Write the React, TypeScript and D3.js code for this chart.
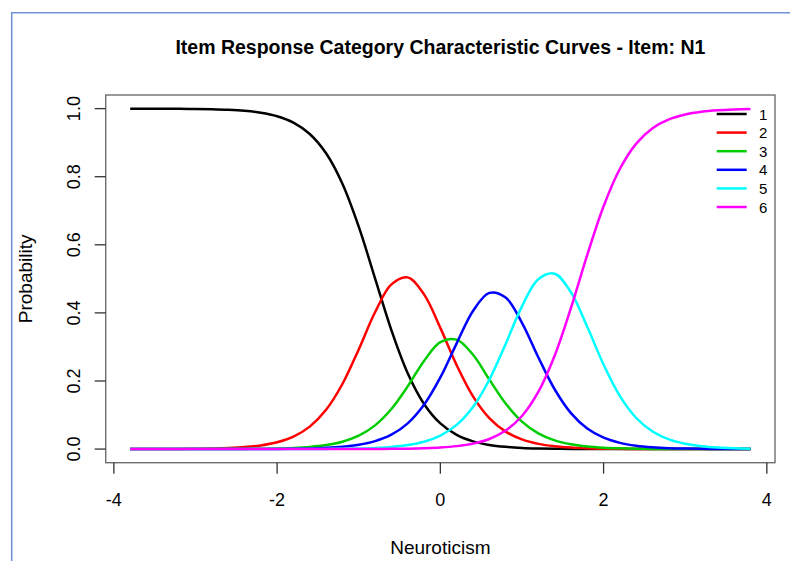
import React from "react";
import * as d3 from "d3";

const theta = [-3.8,-3.6,-3.4,-3.2,-3.0,-2.8,-2.6,-2.4,-2.2,-2.0,-1.8,-1.6,-1.4,-1.2,-1.0,-0.8,-0.6,-0.4,-0.2,0,0.2,0.4,0.6,0.8,1.0,1.2,1.4,1.6,1.8,2.0,2.2,2.4,2.6,2.8,3.0,3.2,3.4,3.6,3.8];

const cat1 = [0.9999,0.9998,0.9997,0.9995,0.9990,0.9981,0.9965,0.9935,0.9879,0.9776,0.9588,0.9254,0.8687,0.7794,0.6534,0.5015,0.3493,0.2227,0.1326,0.0754,0.0417,0.0227,0.0122,0.0066,0.0035,0.0019,0.0010,0.0005,0.0003,0.0002,0.0001,0,0,0,0,0,0,0,0];
const cat2 = [0.0001,0.0001,0.0003,0.0005,0.0009,0.0017,0.0031,0.0058,0.0108,0.0200,0.0367,0.0660,0.1153,0.1911,0.2927,0.4019,0.4838,0.5044,0.4544,0.3560,0.2465,0.1550,0.0912,0.0513,0.0283,0.0153,0.0083,0.0044,0.0024,0.0013,0.0007,0.0004,0.0002,0.0001,0.0001,0,0,0,0];
const cat3 = [0,0,0,0,0.0001,0.0002,0.0003,0.0005,0.0010,0.0018,0.0034,0.0064,0.0118,0.0217,0.0393,0.0696,0.1176,0.1842,0.2588,0.3140,0.3215,0.2769,0.2045,0.1339,0.0807,0.0461,0.0255,0.0139,0.0075,0.0040,0.0022,0.0012,0.0006,0.0003,0.0002,0.0001,0,0,0];
const cat4 = [0,0,0,0,0,0.0001,0.0001,0.0002,0.0003,0.0006,0.0010,0.0019,0.0036,0.0068,0.0126,0.0233,0.0423,0.0757,0.1301,0.2104,0.3106,0.4058,0.4588,0.4451,0.3710,0.2699,0.1757,0.1057,0.0603,0.0335,0.0183,0.0099,0.0053,0.0028,0.0015,0.0008,0.0004,0.0002,0.0001];
const cat5 = [0,0,0,0,0,0,0,0,0,0.0001,0.0002,0.0003,0.0005,0.0010,0.0018,0.0034,0.0063,0.0117,0.0216,0.0396,0.0710,0.1235,0.2036,0.3088,0.4193,0.4990,0.5152,0.4608,0.3592,0.2479,0.1555,0.0913,0.0515,0.0283,0.0154,0.0083,0.0044,0.0024,0.0013];
const cat6 = [0,0,0,0,0,0,0,0,0,0,0,0,0.0001,0.0001,0.0002,0.0004,0.0007,0.0013,0.0025,0.0046,0.0087,0.0161,0.0297,0.0543,0.0972,0.1678,0.2743,0.4146,0.5703,0.7132,0.8233,0.8973,0.9424,0.9684,0.9829,0.9908,0.9951,0.9974,0.9986];

const categories = ["1", "2", "3", "4", "5", "6"];
const seriesValues = [cat1, cat2, cat3, cat4, cat5, cat6];
const colors = ["#000000", "#FF0000", "#00CD00", "#0000FF", "#00FFFF", "#FF00FF"];
const xTicks = [-4, -2, 0, 2, 4];
const yTicks = [0, 0.2, 0.4, 0.6, 0.8, 1.0];

const title = "Item Response Category Characteristic Curves - Item: N1";
const xLabel = "Neuroticism";
const yLabel = "Probability";

export default function App() {
  const W = 790, H = 561;
  const left = 105.7, right = 775, top = 95, bottom = 462.7;
  const x = d3.scaleLinear().domain([-4.1, 4.1]).range([left, right]);
  const y = d3.scaleLinear().domain([-0.04, 1.04]).range([bottom, top]);
  const line = d3.line<[number, number]>()
    .x(d => x(d[0]))
    .y(d => y(d[1]))
    .curve(d3.curveCatmullRom.alpha(0.5));
  const font = "'Liberation Sans', Arial, sans-serif";
  const legX1 = 716.7, legX2 = 746.7, legY0 = 114, legStep = 18.6;

  return (
    <svg width={W} height={H} style={{ position: "absolute", left: 0, top: 0, background: "#fff" }} fontFamily={font}>
      <rect x={0} y={0} width={W} height={H} fill="#fff" />
      <path d={`M ${W} 12.7 H 11.7 V ${H}`} fill="none" stroke="#6f93d6" strokeWidth={1.6} />
      <text x={(left + right) / 2} y={54} textAnchor="middle" fontSize={19.5} fontWeight="bold" fill="#000">{title}</text>
      <rect x={left} y={top} width={right - left} height={bottom - top} fill="none" stroke="#6e6e6e" strokeWidth={1.4} />
      {xTicks.map(t => (
        <g key={"x" + t}>
          <line x1={x(t)} x2={x(t)} y1={bottom} y2={bottom + 11} stroke="#333" strokeWidth={1.3} />
          <text x={x(t)} y={506} textAnchor="middle" fontSize={18} fill="#000">{t}</text>
        </g>
      ))}
      {yTicks.map(t => (
        <g key={"y" + t}>
          <line x1={left} x2={left - 11} y1={y(t)} y2={y(t)} stroke="#333" strokeWidth={1.3} />
          <text transform={`translate(79.5,${y(t)}) rotate(-90)`} textAnchor="middle" fontSize={18} fill="#000">{t.toFixed(1)}</text>
        </g>
      ))}
      <text x={(left + right) / 2} y={554} textAnchor="middle" fontSize={19} fill="#000">{xLabel}</text>
      <text transform={`translate(32,${(top + bottom) / 2}) rotate(-90)`} textAnchor="middle" fontSize={19} fill="#000">{yLabel}</text>
      {seriesValues.map((vals, i) => (
        <path key={"s" + i} d={line(theta.map((t, j) => [t, vals[j]]) as [number, number][]) || ""} fill="none" stroke={colors[i]} strokeWidth={2.5} strokeLinejoin="round" />
      ))}
      {categories.map((c, i) => (
        <g key={"l" + c}>
          <line x1={legX1} x2={legX2} y1={legY0 + i * legStep} y2={legY0 + i * legStep} stroke={colors[i]} strokeWidth={2.5} />
          <text x={759} y={legY0 + i * legStep + 5.5} fontSize={15} fill="#000">{c}</text>
        </g>
      ))}
    </svg>
  );
}
